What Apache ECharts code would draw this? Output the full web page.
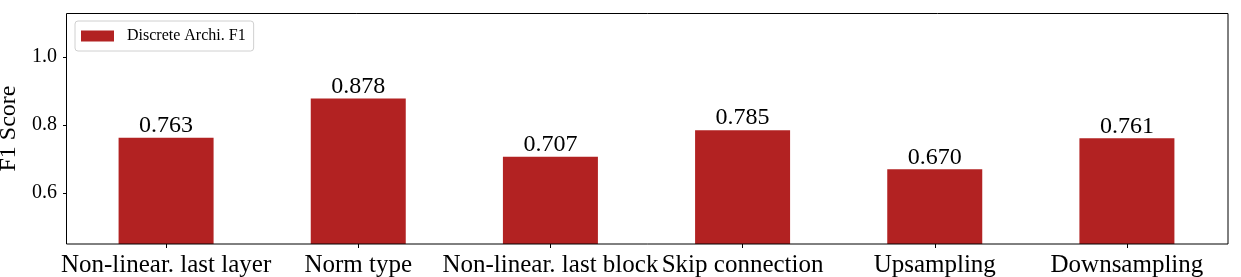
<!DOCTYPE html>
<html><head><meta charset="utf-8">
<script src="https://cdn.jsdelivr.net/npm/echarts@6/dist/echarts.min.js"></script>
<style>html,body{margin:0;padding:0;background:#fff}#c{width:1241px;height:277px}</style>
</head><body><div id="c"></div>
<script>
const categories = ["Non-linear. last layer", "Norm type", "Non-linear. last block", "Skip connection", "Upsampling", "Downsampling"];
const f1Values = [0.763, 0.878, 0.707, 0.785, 0.670, 0.761];
const yTicks = [0.6, 0.8, 1.0];
const seriesName = "Discrete Archi. F1";
const FONT = "'Liberation Serif', 'Times New Roman', serif";

const chart = echarts.init(document.getElementById('c'), null, {renderer: 'canvas'});
chart.setOption({
  animation: false,
  backgroundColor: '#fff',
  grid: {left: 70, right: 18, top: 13, bottom: 33, show: false,
    containLabel: false, outerBoundsMode: 'none'},
  graphic: [{
    type: 'rect', z: 100, silent: true,
    shape: {x: 66.5, y: 13.5, width: 1161.5, height: 230.5},
    style: {fill: 'none', stroke: '#000', lineWidth: 1}
  }],
  legend: {
    left: 75, top: 21, orient: 'horizontal',
    padding: [7, 8, 7, 6],
    itemWidth: 33, itemHeight: 11,
    borderColor: '#d0d0d0', borderWidth: 1, borderRadius: 3,
    icon: 'rect',
    textStyle: {fontFamily: FONT, fontSize: 16, color: '#000', padding: [0, 0, 0, 8]},
    data: [seriesName]
  },
  xAxis: {
    type: 'category', data: categories, boundaryGap: true,
    axisLine: {show: false},
    axisTick: {show: true, alignWithLabel: true, length: 4, lineStyle: {color: '#000'}},
    axisLabel: {fontFamily: FONT, fontSize: 25, color: '#000', margin: 9, interval: 0}
  },
  yAxis: {
    type: 'value', min: 0.45, max: 1.13, offset: 3,
    name: 'F1 Score', nameLocation: 'middle', nameGap: 44,
    nameTextStyle: {fontFamily: FONT, fontSize: 24, color: '#000'},
    axisLine: {show: false},
    axisTick: {show: true, length: 4, lineStyle: {color: '#000'}, customValues: yTicks},
    axisLabel: {fontFamily: FONT, fontSize: 20, color: '#000', margin: 10, customValues: yTicks,
      formatter: v => v.toFixed(1)},
    splitLine: {show: false}
  },
  series: [{
    name: seriesName, type: 'bar', data: f1Values, barWidth: 95,
    itemStyle: {color: '#b22222'},
    label: {show: true, position: 'top', distance: 0, fontFamily: FONT, fontSize: 24, color: '#000',
      formatter: p => p.value.toFixed(3)}
  }]
});
</script></body></html>
